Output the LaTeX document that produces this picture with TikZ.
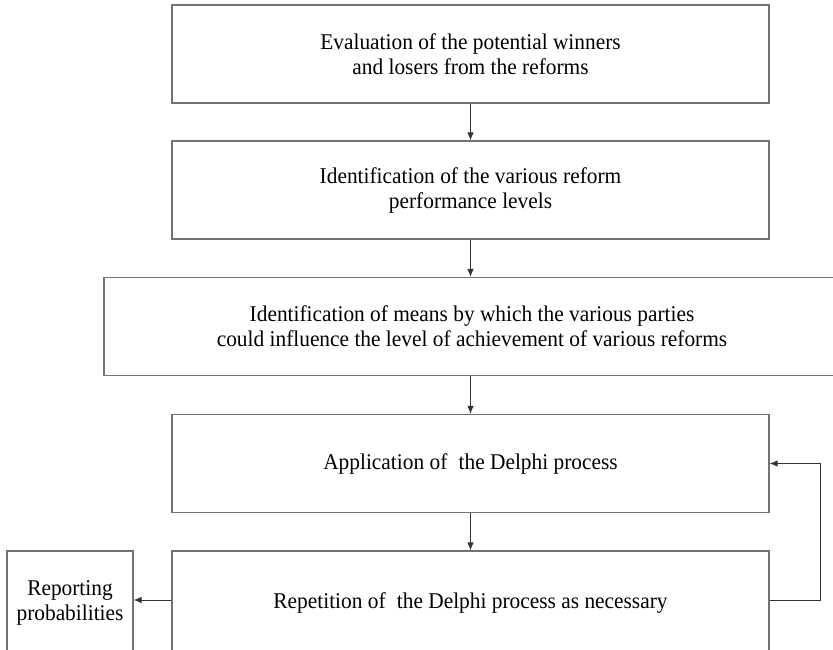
\documentclass[tikz,border=0pt]{standalone}
\usepackage{fontspec}
\setmainfont{Liberation Serif}[FakeStretch=0.95]
\usetikzlibrary{arrows.meta, positioning}

\begin{document}
\begin{tikzpicture}[
  x=1pt, y=-1pt,
  every node/.style={font=\fontsize{22.5}{25}\selectfont},
  stage/.style={
    rectangle, draw=black!55, line width=1.2pt,
    minimum width=597pt, minimum height=98pt,
    inner sep=0pt, align=center,
  },
  side/.style={
    rectangle, draw=black!55, line width=1.2pt,
    minimum width=126pt, minimum height=104pt,
    inner sep=0pt, align=center,
  },
  flow/.style={-{Latex[length=8pt,width=6.5pt]}, line width=0.9pt, draw=black!80},
]
\clip (0,0) rectangle (833,649);

% ---- Stages ----
\node[stage] (eval) at (470.5, 54) {Evaluation of the potential winners\\ and losers from the reforms};
\node[stage] (levels) at (470.5, 190) {Identification of the various reform\\ performance levels};
\node[stage, minimum width=736pt] (means) at (472, 326.5) {Identification of means by which the various parties\\ could influence the level of achievement of various reforms};
\node[stage] (delphi) at (470.5, 463.5) {Application of\enspace the Delphi process};
\node[stage, minimum height=104pt] (repeat) at (470.5, 603) {Repetition of\enspace the Delphi process as necessary};
\node[side] (report) at (70, 603) {Reporting\\ probabilities};

% ---- Connectors ----
\draw[flow] (eval.south) -- (levels.north);
\draw[flow] (levels.south) -- (levels.south |- means.north);
\draw[flow] (delphi.north |- means.south) -- (delphi.north);
\draw[flow] (delphi.south) -- (repeat.north);
\draw[flow] (repeat.west |- 0,600) -- (report.east |- 0,600);
\draw[flow] (repeat.east |- 0,600) -- ++(51,0) |- (delphi.east);

\end{tikzpicture}
\end{document}
